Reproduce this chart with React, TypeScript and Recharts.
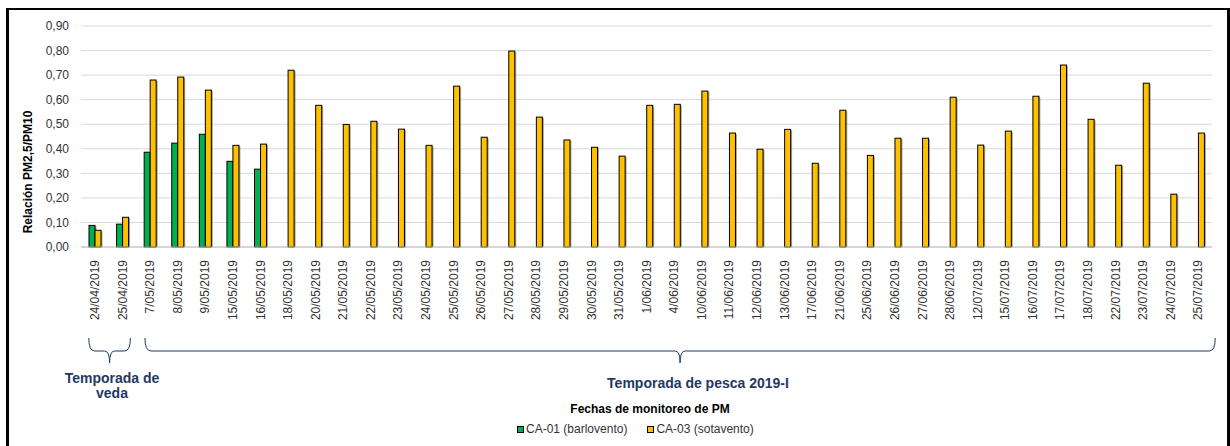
import { BarChart, Bar, XAxis, YAxis, CartesianGrid, Legend } from "recharts";

const FECHAS = [
  "24/04/2019", "25/04/2019", "7/05/2019", "8/05/2019", "9/05/2019", "15/05/2019", "16/05/2019",
  "18/05/2019", "20/05/2019", "21/05/2019", "22/05/2019", "23/05/2019", "24/05/2019", "25/05/2019",
  "26/05/2019", "27/05/2019", "28/05/2019", "29/05/2019", "30/05/2019", "31/05/2019", "1/06/2019",
  "4/06/2019", "10/06/2019", "11/06/2019", "12/06/2019", "13/06/2019", "17/06/2019", "21/06/2019",
  "25/06/2019", "26/06/2019", "27/06/2019", "28/06/2019", "12/07/2019", "15/07/2019", "16/07/2019",
  "17/07/2019", "18/07/2019", "22/07/2019", "23/07/2019", "24/07/2019", "25/07/2019",
];

const CA01 = [0.088, 0.093, 0.386, 0.423, 0.459, 0.349, 0.317];

const CA03 = [
  0.068, 0.121, 0.68, 0.692, 0.639, 0.414, 0.419, 0.72, 0.577, 0.499, 0.512, 0.48, 0.414, 0.655,
  0.447, 0.798, 0.529, 0.436, 0.406, 0.37, 0.577, 0.581, 0.635, 0.464, 0.398, 0.479, 0.341, 0.557,
  0.373, 0.443, 0.443, 0.61, 0.415, 0.472, 0.614, 0.741, 0.52, 0.333, 0.667, 0.215, 0.464,
];

const Y_TICKS = [0, 0.1, 0.2, 0.3, 0.4, 0.5, 0.6, 0.7, 0.8, 0.9];

const SERIES = [
  { key: "ca01", name: "CA-01 (barlovento)", color: "#00b050" },
  { key: "ca03", name: "CA-03 (sotavento)", color: "#ffc000" },
];

// temporadas: first/last category index and label lines
const TEMPORADAS = [
  { from: 0, to: 1, padL: 6, padR: 8, lines: ["Temporada de", "veda"], textX: 104, textY: 368 },
  { from: 2, to: 40, padL: 5, padR: 17, lines: ["Temporada de pesca 2019-I"], textX: 690, textY: 373 },
];

const FONT = "'Liberation Sans', Arial, sans-serif";
const NAVY = "#1f3864";

const W = 1220;
const H = 436;
const MARGIN = { top: 16, right: 16, left: 0, bottom: 105 };
const Y_WIDTH = 73;
const PLOT_LEFT = MARGIN.left + Y_WIDTH;
const PLOT_W = W - PLOT_LEFT - MARGIN.right;
const BAND = PLOT_W / FECHAS.length;

const data = FECHAS.map((fecha, i) => ({
  fecha,
  ca01: CA01[i] ?? null,
  ca03: CA03[i] ?? null,
}));

const fmt = (v: number) => v.toFixed(2).replace(".", ",");

function ShadowBar(props: any) {
  const { x, y, width, height, fill } = props;
  if (!height || height <= 0) return null;
  return (
    <g>
      <rect x={x + 1.5} y={y + 1} width={width} height={height - 1} fill="#808080" opacity={0.7} />
      <rect x={x} y={y} width={width} height={height} fill={fill} stroke="#000" strokeWidth={1} />
    </g>
  );
}

function DateTick(props: any) {
  const { x, y, payload } = props;
  return (
    <text
      transform={`translate(${x},${y + 11}) rotate(-90)`}
      textAnchor="end"
      dy="0.35em"
      fontSize={12}
      fontFamily={FONT}
      fill="#333"
    >
      {payload.value}
    </text>
  );
}

function LegendBox() {
  return (
    <div style={{ display: "flex", alignItems: "center", paddingLeft: 509, fontFamily: FONT, fontSize: 12, color: "#333" }}>
      {SERIES.map((s, i) => (
        <div key={s.key} style={{ display: "flex", alignItems: "center", marginRight: i === 0 ? 20 : 0 }}>
          <span style={{ width: 5, height: 5, background: s.color, border: "1px solid #000", marginRight: 2 }} />
          <span>{s.name}</span>
        </div>
      ))}
    </div>
  );
}

function bracePath(x1: number, x2: number) {
  const top = 328;
  const mid = 341;
  const tip = 353;
  const c = (x1 + x2) / 2;
  return `M${x1},${top} Q${x1},${mid} ${x1 + 6},${mid} L${c - 5},${mid} Q${c},${mid} ${c},${tip} Q${c},${mid} ${c + 5},${mid} L${x2 - 6},${mid} Q${x2},${mid} ${x2},${top}`;
}

export default function App() {
  const center = (i: number) => PLOT_LEFT + BAND * (i + 0.5);
  return (
    <div style={{ position: "relative", width: 1214, height: 438, background: "#fff" }}>
      <div style={{ position: "absolute", left: 0, top: 2 }}>
        <BarChart width={W} height={H} data={data} margin={MARGIN} barGap={0} barSize={6}>
          <CartesianGrid vertical={false} stroke="#d9d9d9" />
          <XAxis
            dataKey="fecha"
            interval={0}
            tickLine={false}
            tickSize={0}
            axisLine={{ stroke: "#bfbfbf" }}
            tick={<DateTick />}
            height={80}
          />
          <YAxis
            width={Y_WIDTH}
            domain={[0, 0.9]}
            ticks={Y_TICKS}
            tickFormatter={fmt}
            axisLine={false}
            tickLine={false}
            tickSize={0}
            tickMargin={12}
            tick={{ fontSize: 12, fontFamily: FONT, fill: "#333" }}
            label={{
              content: () => (
                <text
                  transform="translate(20,162) rotate(-90)"
                  textAnchor="middle"
                  dy="0.35em"
                  fontSize={12}
                  fontWeight="bold"
                  fontFamily={FONT}
                  fill="#000"
                >
                  Relación PM2,5/PM10
                </text>
              ),
            }}
          />
          <Legend content={<LegendBox />} wrapperStyle={{ position: "absolute", left: 0, top: 412, width: W }} />
          {SERIES.map((s) => (
            <Bar key={s.key} dataKey={s.key} name={s.name} fill={s.color} shape={<ShadowBar />} isAnimationActive={false} />
          ))}
        </BarChart>
        <svg width={W} height={H} style={{ position: "absolute", left: 0, top: 0, pointerEvents: "none" }}>
          {TEMPORADAS.map((t) => (
            <g key={t.lines[0] + t.from}>
              <path d={bracePath(center(t.from) - t.padL, center(t.to) + t.padR)} fill="none" stroke={NAVY} strokeWidth={1} />
              {t.lines.map((line, j) => (
                <text
                  key={line}
                  x={t.textX}
                  y={t.textY + j * 15}
                  dy="0.35em"
                  textAnchor="middle"
                  fontSize={14}
                  fontWeight="bold"
                  fontFamily={FONT}
                  fill={NAVY}
                >
                  {line}
                </text>
              ))}
            </g>
          ))}
          <text x={642} y={399} dy="0.35em" textAnchor="middle" fontSize={12} fontWeight="bold" fontFamily={FONT} fill="#000">
            Fechas de monitoreo de PM
          </text>
        </svg>
      </div>
      <div
        style={{
          position: "fixed",
          left: 6,
          top: 8,
          width: 1224,
          height: 446,
          borderTop: "2px solid #000",
          borderLeft: "3px solid #000",
          borderRight: "3px solid #000",
          boxSizing: "border-box",
          pointerEvents: "none",
        }}
      />
    </div>
  );
}
